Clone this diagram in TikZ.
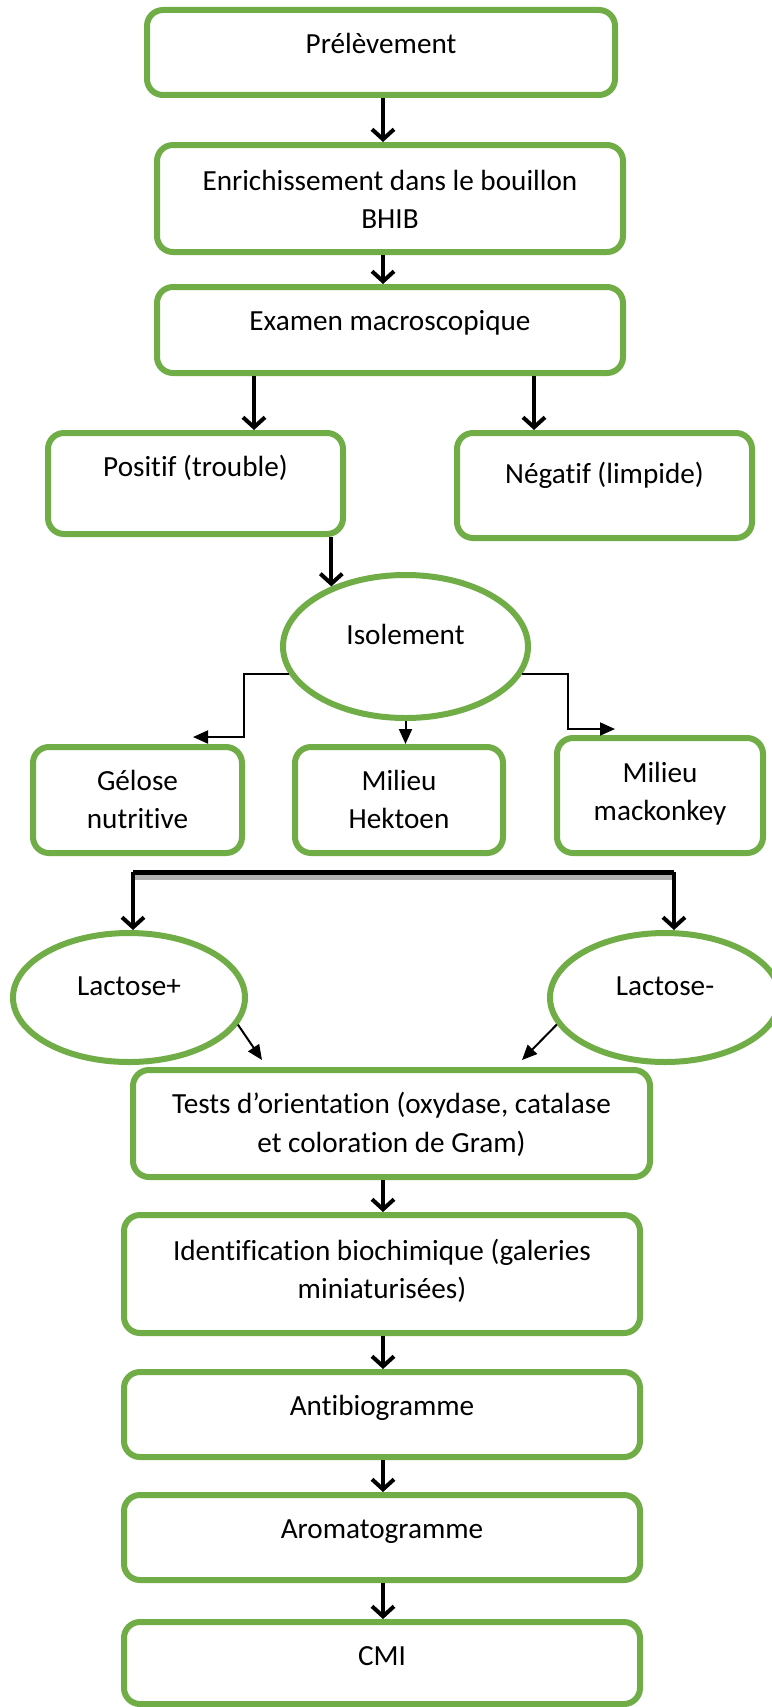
\documentclass[tikz,border=0pt]{standalone}
\usepackage{fontspec}
\setmainfont{Carlito}[Ligatures=NoCommon]
\usetikzlibrary{arrows.meta,shapes.geometric,calc}
\definecolor{grn}{HTML}{70AD47}
\begin{document}
\begin{tikzpicture}[x=0.5pt,y=-0.5pt,
  box/.style={draw=grn, line width=3pt, rounded corners=8pt, fill=white, inner sep=0pt},
  oval/.style={ellipse, draw=grn, line width=3pt, fill=white, inner sep=0pt},
  txt/.style={anchor=base, inner sep=0pt, font=\fontsize{14.6}{19}\selectfont},
  bigarrow/.style={line width=2pt, -{Straight Barb[length=5pt,width=11pt]}},
  smallarrow/.style={line width=1pt, -{Triangle[length=7.5pt,width=6.5pt]}},
  barline/.style={line width=2.5pt},
]
\useasboundingbox (0,0) rectangle (771,1707);
\fill[white] (0,0) rectangle (771,1707);

% boxes
\node[box, minimum width=234pt, minimum height=42.5pt] (pre) at (381,52.5) {};
\node[box, minimum width=233pt, minimum height=53.5pt] (enr) at (390,198.5) {};
\node[box, minimum width=233pt, minimum height=43pt] (exa) at (390,330) {};
\node[box, minimum width=147.5pt, minimum height=50.5pt] (pos) at (195.5,483.5) {};
\node[box, minimum width=147.5pt, minimum height=52.5pt] (neg) at (604.5,485.5) {};
\node[oval, minimum width=122.5pt, minimum height=71.5pt] (iso) at (405.5,646.5) {};
\node[box, minimum width=104.5pt, minimum height=53pt] (gel) at (137.5,800) {};
\node[box, minimum width=104pt, minimum height=53pt] (hek) at (399,800) {};
\node[box, minimum width=103pt, minimum height=57.5pt] (mac) at (660,795.5) {};
\node[oval, minimum width=116pt, minimum height=64.5pt] (lp) at (129,997.5) {};
\node[oval, minimum width=115pt, minimum height=64.5pt] (lm) at (665,997.5) {};
\node[box, minimum width=258.5pt, minimum height=53.5pt] (tests) at (391.5,1123.5) {};
\node[box, minimum width=258pt, minimum height=59pt] (ide) at (382,1274) {};
\node[box, minimum width=258pt, minimum height=42.5pt] (ant) at (382,1414.5) {};
\node[box, minimum width=258pt, minimum height=42.5pt] (aro) at (382,1537.5) {};
\node[box, minimum width=258pt, minimum height=41pt] (cmi) at (382,1663) {};

% texts
\node[txt] (preT) at (381,54) {Prélèvement};
\node[txt] (enrT1) at (390,190) {Enrichissement dans le bouillon};
\node[txt] (enrT2) at (390,228) {BHIB};
\node[txt] (exaT) at (390,330) {Examen macroscopique};
\node[txt] (posT) at (195.5,476) {Positif (trouble)};
\node[txt] (negT) at (604.5,483) {Négatif (limpide)};
\node[txt] (isoT) at (405.5,644) {Isolement};
\node[txt] (gelT1) at (137.5,790) {Gélose};
\node[txt] (gelT2) at (137.5,828) {nutritive};
\node[txt] (hekT1) at (399,790) {Milieu};
\node[txt] (hekT2) at (399,828) {Hektoen};
\node[txt] (macT1) at (660,782) {Milieu};
\node[txt] (macT2) at (660,820) {mackonkey};
\node[txt] (lpT) at (129,995) {Lactose+};
\node[txt] (lmT) at (665,995) {Lactose-};
\node[txt] (testsT1) at (391.5,1113) {Tests d’orientation (oxydase, catalase};
\node[txt] (testsT2) at (391.5,1152) {et coloration de Gram)};
\node[txt] (ideT1) at (382,1260) {Identification biochimique (galeries};
\node[txt] (ideT2) at (382,1298) {miniaturisées)};
\node[txt] (antT) at (382,1415) {Antibiogramme};
\node[txt] (aroT) at (382,1538) {Aromatogramme};
\node[txt] (cmiT) at (382,1665) {CMI};

% coordinates
\coordinate (ax) at (383,0);
\coordinate (posx) at (254,0);
\coordinate (negx) at (534,0);
\coordinate (gbend) at (244,737);
\coordinate (gtip) at (193,737);
\coordinate (mbend) at (568,729);
\coordinate (mtip) at (615,729);
\coordinate (barL) at (133,872);
\coordinate (barR) at (674,872);
\coordinate (lptip) at (262,1060);
\coordinate (lmtip) at (522,1060);

% main arrows
\draw[bigarrow] (ax |- pre.south) -- (ax |- enr.north);
\draw[bigarrow] (ax |- enr.south) -- (ax |- exa.north);
\draw[bigarrow] (posx |- exa.south) -- (posx |- pos.north);
\draw[bigarrow] (negx |- exa.south) -- (negx |- neg.north);
\draw[bigarrow] (iso.141.5 |- pos.south) -- (iso.141.5);

% isolement connectors
\draw[smallarrow] (iso.193) -| (gbend) -- (gtip);
\draw[smallarrow] (iso.south) -- (iso.south |- hek.north);
\draw[smallarrow] (iso.-13) -| (mbend) -- (mtip);

% bar
\draw[barline, gray!60] ([yshift=-2.5pt]barL) -- ([yshift=-2.5pt]barR);
\draw[barline] (barL) -- (barR);
\draw[bigarrow] (barL) -- (barL |- lp.north);
\draw[bigarrow] (barR) -- (barR |- lm.north);

% lactose arrows
\draw[smallarrow] (lp.-14) -- (lptip);
\draw[smallarrow] (lm.194) -- (lmtip);

% lower chain
\draw[bigarrow] (ax |- tests.south) -- (ax |- ide.north);
\draw[bigarrow] (ax |- ide.south) -- (ax |- ant.north);
\draw[bigarrow] (ax |- ant.south) -- (ax |- aro.north);
\draw[bigarrow] (ax |- aro.south) -- (ax |- cmi.north);
\end{tikzpicture}
\end{document}
